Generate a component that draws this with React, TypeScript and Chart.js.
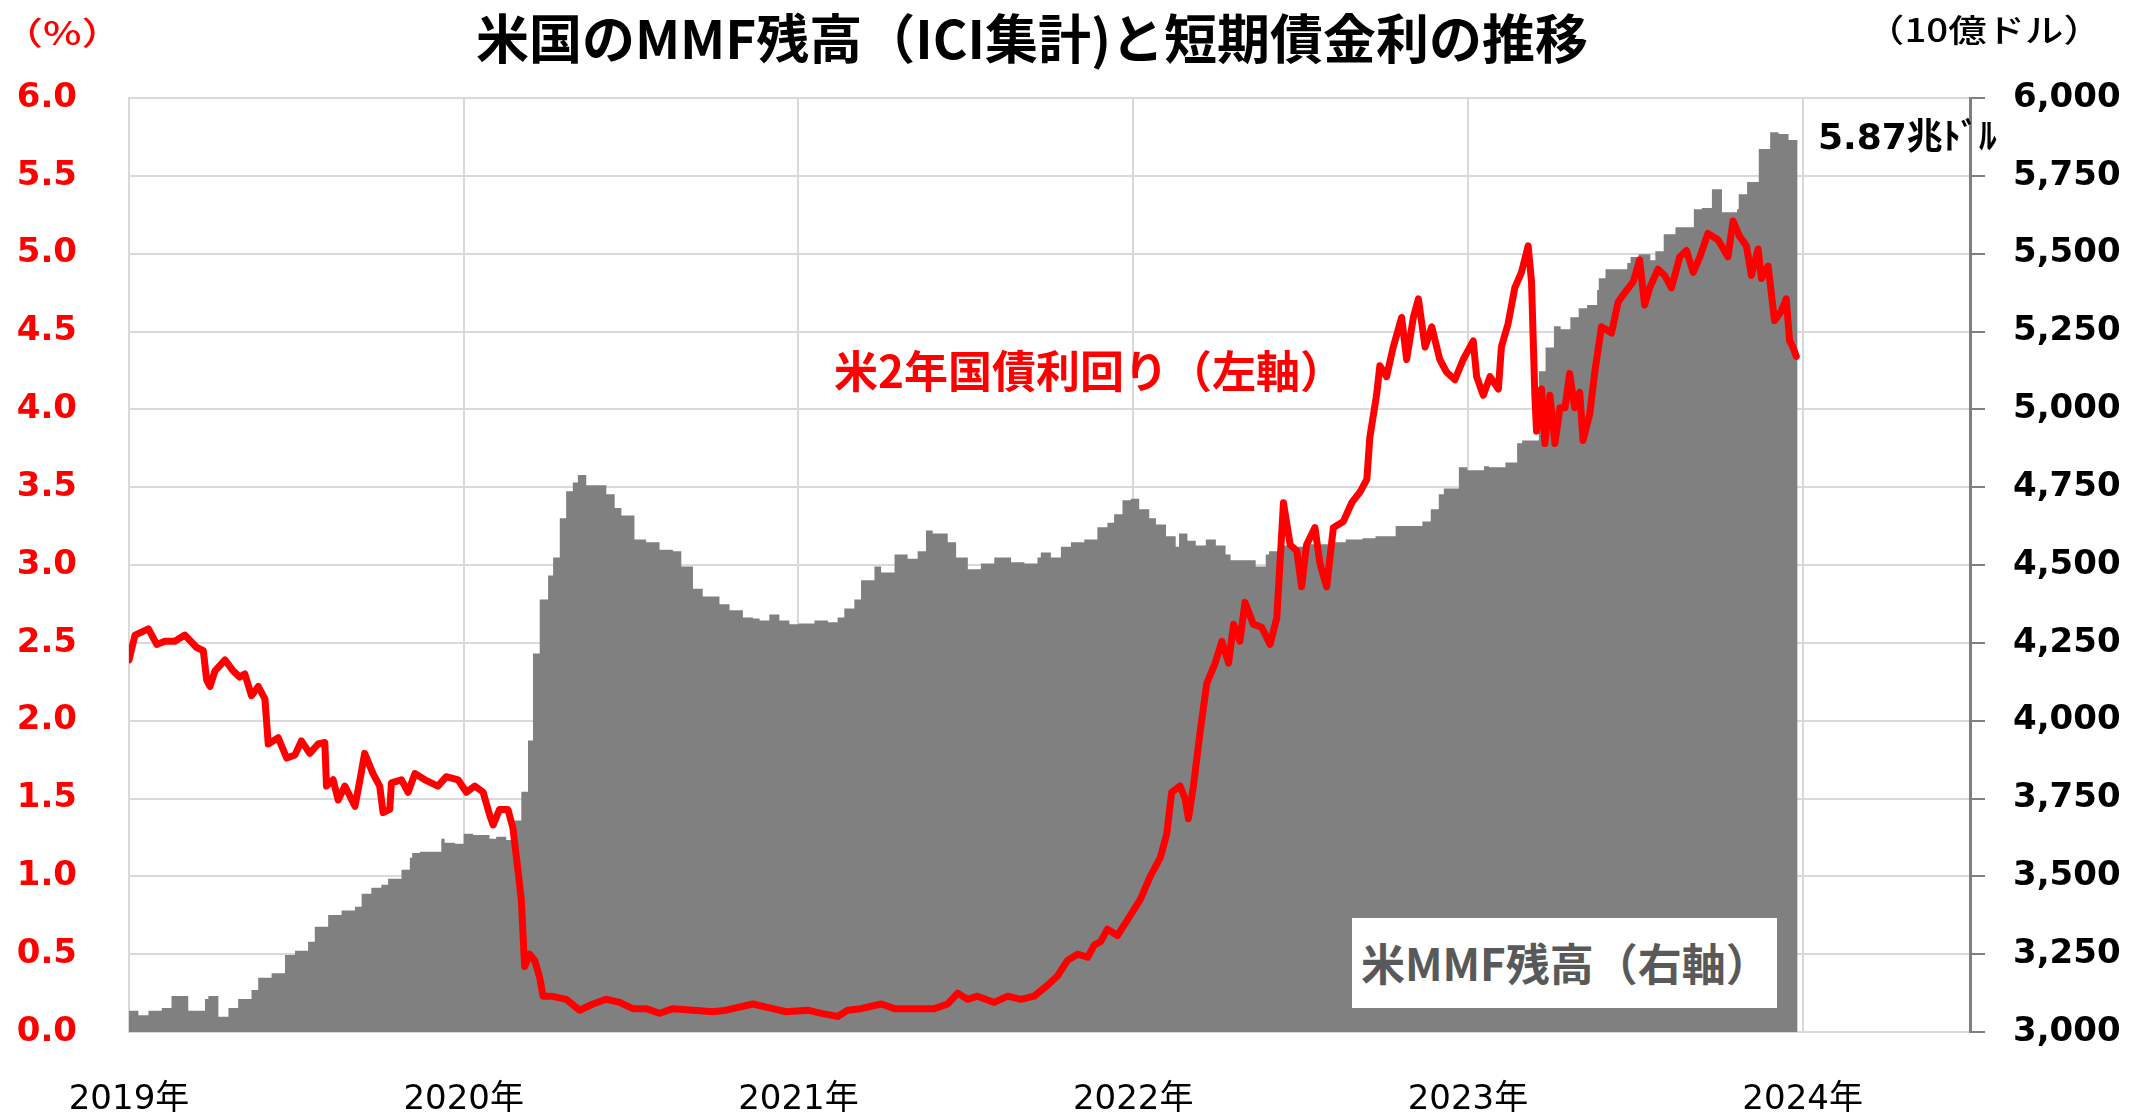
import React, { useEffect, useRef } from 'react';
import { Chart, registerables } from 'chart.js';

Chart.register(...registerables);

// X axis: calendar years (tick labels "YYYY年")
const xMinYear = 2019;
const xMaxYear = 2024.5;
const yearLabels = [2019, 2020, 2021, 2022, 2023, 2024];

// US 2-year Treasury yield (%), left axis: [fraction of year, value]
const yield2019: [number, number][] = [
  [0.0, 2.39], [0.018, 2.55], [0.058, 2.59], [0.083, 2.49], [0.107, 2.51], [0.137, 2.51], [0.167, 2.55],
  [0.202, 2.47], [0.222, 2.45], [0.232, 2.26], [0.242, 2.22], [0.257, 2.32], [0.287, 2.39], [0.311, 2.32],
  [0.331, 2.28], [0.346, 2.3], [0.366, 2.16], [0.386, 2.22], [0.406, 2.14], [0.416, 1.85], [0.446, 1.89],
  [0.471, 1.76], [0.496, 1.78], [0.515, 1.87], [0.54, 1.79], [0.565, 1.85], [0.585, 1.86], [0.59, 1.58],
  [0.61, 1.62], [0.625, 1.49], [0.645, 1.58], [0.675, 1.45], [0.69, 1.62], [0.704, 1.79], [0.729, 1.66],
  [0.749, 1.58], [0.759, 1.41], [0.779, 1.43], [0.784, 1.6], [0.814, 1.62], [0.834, 1.54], [0.854, 1.66],
  [0.884, 1.62], [0.923, 1.58], [0.948, 1.64], [0.983, 1.62],
];
const yield2020: [number, number][] = [
  [0.008, 1.54], [0.033, 1.58], [0.058, 1.54], [0.078, 1.39], [0.088, 1.33], [0.107, 1.43], [0.132, 1.43],
  [0.147, 1.31], [0.162, 1.04], [0.172, 0.85], [0.182, 0.42], [0.197, 0.5], [0.212, 0.46], [0.227, 0.35],
  [0.237, 0.23], [0.262, 0.23], [0.306, 0.21], [0.346, 0.14], [0.386, 0.18], [0.426, 0.21], [0.466, 0.19],
  [0.505, 0.15], [0.545, 0.15], [0.585, 0.12], [0.625, 0.15], [0.685, 0.14], [0.744, 0.13], [0.784, 0.14],
  [0.864, 0.18], [0.923, 0.15], [0.963, 0.13],
];
const yield2021: [number, number][] = [
  [0.028, 0.14], [0.068, 0.12], [0.117, 0.1], [0.147, 0.14], [0.187, 0.15], [0.247, 0.18], [0.287, 0.15],
  [0.336, 0.15], [0.406, 0.15], [0.446, 0.18], [0.476, 0.25], [0.505, 0.21], [0.535, 0.23], [0.585, 0.19],
  [0.625, 0.23], [0.665, 0.21], [0.704, 0.23], [0.744, 0.3], [0.774, 0.36], [0.804, 0.46], [0.834, 0.5],
  [0.864, 0.48], [0.884, 0.56], [0.903, 0.58], [0.923, 0.66], [0.953, 0.62], [0.983, 0.72],
];
const yield2022: [number, number][] = [
  [0.021, 0.85], [0.051, 1.0], [0.081, 1.12], [0.1, 1.27], [0.115, 1.54], [0.14, 1.58], [0.155, 1.5],
  [0.165, 1.37], [0.18, 1.58], [0.2, 1.93], [0.22, 2.24], [0.245, 2.37], [0.265, 2.51], [0.285, 2.37],
  [0.3, 2.62], [0.319, 2.51], [0.334, 2.76], [0.359, 2.62], [0.384, 2.6], [0.409, 2.49], [0.429, 2.66],
  [0.449, 3.4], [0.469, 3.13], [0.489, 3.09], [0.503, 2.86], [0.518, 3.13], [0.543, 3.24], [0.558, 3.01],
  [0.578, 2.86], [0.598, 3.24], [0.628, 3.28], [0.653, 3.4], [0.678, 3.47], [0.698, 3.55], [0.707, 3.82],
  [0.727, 4.09], [0.737, 4.28], [0.757, 4.21], [0.777, 4.4], [0.802, 4.59], [0.817, 4.32], [0.837, 4.59],
  [0.852, 4.71], [0.872, 4.4], [0.892, 4.53], [0.916, 4.32], [0.936, 4.24], [0.961, 4.19], [0.986, 4.32],
];
const yield2023: [number, number][] = [
  [0.016, 4.44], [0.026, 4.21], [0.046, 4.09], [0.066, 4.21], [0.091, 4.13], [0.1, 4.4], [0.12, 4.55],
  [0.14, 4.78], [0.16, 4.88], [0.18, 5.05], [0.19, 4.82], [0.2, 4.09], [0.205, 3.86], [0.22, 4.13],
  [0.23, 3.78], [0.245, 4.09], [0.26, 3.78], [0.275, 4.01], [0.29, 4.01], [0.304, 4.23], [0.319, 4.01],
  [0.334, 4.11], [0.344, 3.8], [0.364, 3.97], [0.379, 4.24], [0.399, 4.53], [0.429, 4.49], [0.449, 4.69],
  [0.469, 4.75], [0.494, 4.82], [0.513, 4.96], [0.528, 4.67], [0.543, 4.78], [0.568, 4.9], [0.588, 4.86],
  [0.608, 4.78], [0.633, 4.98], [0.653, 5.02], [0.673, 4.88], [0.693, 4.98], [0.717, 5.13], [0.747, 5.09],
  [0.777, 4.98], [0.792, 5.21], [0.812, 5.11], [0.832, 5.05], [0.847, 4.86], [0.867, 5.03], [0.877, 4.84],
  [0.897, 4.92], [0.916, 4.57], [0.936, 4.63], [0.951, 4.71], [0.961, 4.44], [0.971, 4.4], [0.981, 4.34],
];

// US MMF assets (ICI, $ billion), right axis: [fraction of year, value]
const mmf2019: [number, number][] = [
  [0.0, 3049], [0.028, 3068], [0.058, 3054], [0.098, 3068], [0.127, 3077], [0.177, 3116], [0.227, 3068],
  [0.237, 3106], [0.267, 3116], [0.297, 3049], [0.326, 3077], [0.366, 3106], [0.386, 3135], [0.426, 3174],
  [0.466, 3189], [0.496, 3247], [0.535, 3261], [0.555, 3290], [0.595, 3338], [0.635, 3376], [0.675, 3390],
  [0.695, 3402], [0.724, 3444], [0.754, 3463], [0.774, 3473], [0.814, 3492], [0.839, 3521], [0.846, 3560],
  [0.869, 3575], [0.933, 3579], [0.943, 3621], [0.973, 3608],
];
const mmf2020: [number, number][] = [
  [0.0, 3605], [0.028, 3637], [0.077, 3633], [0.097, 3621], [0.127, 3627], [0.152, 3617], [0.172, 3679],
  [0.192, 3772], [0.207, 3936], [0.227, 4216], [0.252, 4389], [0.267, 4466], [0.287, 4524], [0.306, 4650],
  [0.326, 4737], [0.341, 4765], [0.366, 4789], [0.426, 4756], [0.451, 4727], [0.471, 4683], [0.51, 4659],
  [0.545, 4582], [0.585, 4573], [0.625, 4549], [0.65, 4544], [0.685, 4495], [0.714, 4424], [0.764, 4399],
  [0.794, 4374], [0.834, 4355], [0.864, 4331], [0.884, 4328], [0.913, 4322], [0.943, 4341], [0.973, 4322],
];
const mmf2021: [number, number][] = [
  [0.0, 4310], [0.048, 4312], [0.088, 4322], [0.117, 4316], [0.137, 4331], [0.167, 4360], [0.187, 4389],
  [0.227, 4451], [0.247, 4495], [0.287, 4476], [0.326, 4534], [0.356, 4520], [0.381, 4544], [0.401, 4611],
  [0.446, 4601], [0.471, 4573], [0.506, 4524], [0.545, 4486], [0.585, 4505], [0.635, 4524], [0.675, 4509],
  [0.714, 4505], [0.724, 4524], [0.754, 4540], [0.784, 4524], [0.814, 4559], [0.854, 4573], [0.893, 4582],
  [0.923, 4621], [0.943, 4636], [0.968, 4663], [0.993, 4708],
];
const mmf2022: [number, number][] = [
  [0.018, 4713], [0.048, 4679], [0.068, 4650], [0.098, 4630], [0.127, 4592], [0.137, 4559], [0.162, 4601],
  [0.187, 4578], [0.217, 4563], [0.247, 4582], [0.276, 4563], [0.291, 4534], [0.316, 4515], [0.366, 4515],
  [0.396, 4495], [0.406, 4534], [0.446, 4544], [0.486, 4563], [0.525, 4559], [0.585, 4567], [0.635, 4573],
  [0.685, 4582], [0.724, 4586], [0.784, 4592], [0.829, 4625], [0.864, 4625], [0.889, 4640], [0.913, 4679],
  [0.928, 4727], [0.953, 4746], [0.973, 4746], [0.998, 4814],
];
const mmf2023: [number, number][] = [
  [0.003, 4804], [0.048, 4804], [0.063, 4817], [0.112, 4814], [0.147, 4829], [0.162, 4891], [0.212, 4900],
  [0.232, 5122], [0.257, 5199], [0.277, 5267], [0.306, 5257], [0.331, 5296], [0.356, 5325], [0.386, 5335],
  [0.391, 5383], [0.411, 5421], [0.431, 5450], [0.476, 5450], [0.486, 5470], [0.51, 5489], [0.545, 5498],
  [0.56, 5479], [0.585, 5508], [0.62, 5562], [0.675, 5585], [0.699, 5643], [0.729, 5647], [0.759, 5707],
  [0.804, 5633], [0.809, 5643], [0.834, 5691], [0.869, 5730], [0.903, 5836], [0.928, 5890], [0.958, 5884],
  [0.985, 5865],
];

const yieldByYear: [number, [number, number][]][] = [
  [2019, yield2019], [2020, yield2020], [2021, yield2021], [2022, yield2022], [2023, yield2023],
];
const mmfByYear: [number, [number, number][]][] = [
  [2019, mmf2019], [2020, mmf2020], [2021, mmf2021], [2022, mmf2022], [2023, mmf2023],
];

const toPoints = (groups: [number, [number, number][]][]) =>
  groups.flatMap(([year, arr]) => arr.map(([f, v]) => ({ x: year + f, y: v })));

const TICK_FONT = "'DejaVu Sans', 'Noto Sans CJK JP', sans-serif";
const JP_FONT = "'Noto Sans CJK JP', sans-serif";

function Text(props: { left: number; top: number; style?: React.CSSProperties; children: React.ReactNode }) {
  return (
    <div
      style={{
        position: 'absolute',
        left: props.left,
        top: props.top,
        whiteSpace: 'nowrap',
        lineHeight: 1,
        ...props.style,
      }}
    >
      {props.children}
    </div>
  );
}

export default function App() {
  const canvasRef = useRef<HTMLCanvasElement | null>(null);

  useEffect(() => {
    if (!canvasRef.current) return;
    const chart = new Chart(canvasRef.current, {
      type: 'line',
      data: {
        datasets: [
          {
            label: '米2年国債利回り（左軸）',
            data: toPoints(yieldByYear),
            yAxisID: 'y',
            borderColor: '#FF0000',
            borderWidth: 7,
            borderJoinStyle: 'round',
            borderCapStyle: 'round',
            pointRadius: 0,
            tension: 0,
            fill: false,
            order: 0,
          },
          {
            label: '米MMF残高（右軸）',
            data: toPoints(mmfByYear),
            yAxisID: 'y1',
            borderWidth: 0,
            borderColor: 'rgba(0,0,0,0)',
            backgroundColor: '#808080',
            fill: 'start',
            stepped: 'after',
            pointRadius: 0,
            order: 1,
          },
        ],
      },
      options: {
        animation: false,
        responsive: false,
        maintainAspectRatio: false,
        devicePixelRatio: 1,
        layout: { padding: { top: 98, left: 0, right: 0, bottom: 0 } },
        plugins: { legend: { display: false }, tooltip: { enabled: false }, title: { display: false } },
        scales: {
          x: {
            type: 'linear',
            min: xMinYear,
            max: xMaxYear,
            afterBuildTicks: (s: any) => {
              s.ticks = yearLabels.map((v) => ({ value: v }));
            },
            ticks: {
              autoSkip: false,
              maxRotation: 0,
              callback: (v: any) => `${v}年`,
              color: '#000000',
              font: { family: TICK_FONT, size: 34 },
              padding: 48,
            },
            grid: { color: '#D9D9D9', lineWidth: 2, drawTicks: false },
            border: { color: '#D9D9D9', width: 2 },
            afterFit: (s: any) => {
              s.height = 83;
            },
          },
          y: {
            position: 'left',
            min: 0,
            max: 6,
            ticks: {
              stepSize: 0.5,
              callback: (v: any) => Number(v).toFixed(1),
              color: '#FF0000',
              font: { family: TICK_FONT, size: 34, weight: 'bold' },
              padding: 52,
            },
            grid: { color: '#D9D9D9', lineWidth: 2, drawTicks: false },
            border: { color: '#D9D9D9', width: 2 },
            afterFit: (s: any) => {
              s.width = 129;
            },
          },
          y1: {
            position: 'right',
            min: 3000,
            max: 6000,
            ticks: {
              stepSize: 250,
              callback: (v: any) => Number(v).toLocaleString('en-US'),
              color: '#000000',
              font: { family: TICK_FONT, size: 34, weight: 'bold' },
              padding: 28,
            },
            grid: { drawOnChartArea: false, color: '#808080', lineWidth: 2, tickLength: 15 },
            border: { color: '#808080', width: 3 },
            afterFit: (s: any) => {
              s.width = 181;
            },
          },
        },
      },
    });
    return () => chart.destroy();
  }, []);

  return (
    <div style={{ position: 'absolute', left: 0, top: 0, width: 2151, height: 1115, background: '#FFFFFF', overflow: 'hidden' }}>
      <canvas ref={canvasRef} width={2151} height={1115} style={{ position: 'absolute', left: 0, top: 0, display: 'block' }} />
      <Text left={1032} top={10} style={{ transform: 'translateX(-50%)', fontFamily: JP_FONT, fontWeight: 700, fontSize: 53, color: '#000' }}>
        米国のMMF残高（ICI集計)と短期債金利の推移
      </Text>
      <Text left={2} top={15} style={{ transform: 'scaleX(1.28)', transformOrigin: 'left center', fontFamily: JP_FONT, fontWeight: 500, fontSize: 32, color: '#FF0000' }}>
        （%）
      </Text>
      <Text left={1866} top={12} style={{ transform: 'scaleX(1.2)', transformOrigin: 'left center', fontFamily: JP_FONT, fontWeight: 500, fontSize: 32, color: '#000' }}>
        （10億ドル）
      </Text>
      <Text left={1818} top={119} style={{ fontFamily: TICK_FONT, fontWeight: 700, fontSize: 36, color: '#000' }}>
        5.87兆ﾄﾞﾙ
      </Text>
      <Text left={834} top={347} style={{ fontFamily: JP_FONT, fontWeight: 700, fontSize: 44, color: '#FF0000' }}>
        米2年国債利回り（左軸）
      </Text>
      <div
        style={{
          position: 'absolute',
          left: 1352,
          top: 918,
          width: 425,
          height: 90,
          background: '#FFFFFF',
          boxSizing: 'border-box',
          paddingLeft: 9,
          fontFamily: JP_FONT,
          fontWeight: 700,
          fontSize: 44,
          lineHeight: '88px',
          color: '#595959',
          whiteSpace: 'nowrap',
        }}
      >
        米MMF残高（右軸）
      </div>
    </div>
  );
}
